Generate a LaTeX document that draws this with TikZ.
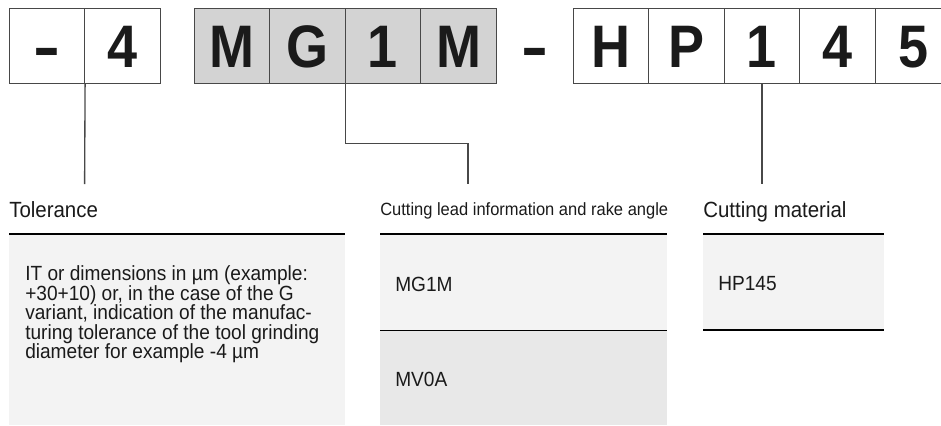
\documentclass[tikz,border=0pt]{standalone}
\usepackage{fontspec}
\usepackage{xcolor}
\usepackage{graphicx}
\usepackage{tikz}
\usetikzlibrary{positioning}
\newfontfamily\keyfont[FakeStretch=0.9]{Liberation Sans}
\newfontfamily\notefont[FakeStretch=0.93]{Liberation Sans}
\definecolor{GCell}{RGB}{211,211,211}
\definecolor{GEdge}{RGB}{72,72,72}
\definecolor{GPanel}{RGB}{243,243,243}
\definecolor{GPanelDark}{RGB}{232,232,232}
\definecolor{GInk}{RGB}{26,26,26}
\newcommand{\keydash}{\scalebox{1.5}[1]{-}}

\tikzset{
  keycell/.style={draw=GEdge, line width=0.75pt, minimum width=56.7pt,
    minimum height=56.25pt, inner sep=0pt, text height=32.25pt, text depth=0pt,
    font=\keyfont\bfseries\fontsize{45}{45}\selectfont, text=GInk},
  keyglyph/.style={keycell, draw=none},
  leader/.style={draw=GEdge, line width=1pt},
  headrule/.style={draw=black, line width=1.9pt},
  heading/.style={inner sep=0pt, text=GInk, font=\notefont\fontsize{16.5}{18}\selectfont},
  notetext/.style={inner sep=0pt, text=GInk, font=\notefont\fontsize{15.4}{14.6}\selectfont}
}

\begin{document}
\begin{tikzpicture}[x=0.75pt, y=-0.75pt]
  \useasboundingbox (0,0) rectangle (941,425);
  \clip (0,0) rectangle (941,425);

  % key boxes
  \foreach \ch [count=\i] in {\keydash,4}
    \node[keycell] (tol\i) at (46.8+75.6*\i-75.6, 45.6) {\ch};
  \foreach \ch [count=\i] in {M,G,1,M}
    \node[keycell, fill=GCell] (lead\i) at (231.8+75.6*\i-75.6, 45.6) {\ch};
  \node[keyglyph] (sep) at (535,45.6) {\keydash};
  \foreach \ch [count=\i] in {H,P,1,4,5}
    \node[keycell] (mat\i) at (610.8+75.6*\i-75.6, 45.6) {\ch};

  % leaders
  \coordinate (tolend) at (84.6,184);
  \coordinate (leadend) at (468,184);
  \coordinate (matend) at (762,184);
  \draw[leader] (tol1.south east) -- (tolend);
  \draw[leader] (lead2.south east) -- ++(0,60) -| (leadend);
  \draw[leader] (mat3.south) -- (matend);

  % panels
  \fill[GPanel] (9,235) rectangle (345,425);
  \fill[GPanel] (380,235) rectangle (667,330);
  \fill[GPanelDark] (380,330) rectangle (667,425);
  \fill[GPanel] (703,235) rectangle (884,330);
  \draw[draw=black, line width=0.75pt] (380,330) -- (667,330);
  \draw[headrule] (9,234) -- (345,234);
  \draw[headrule] (380,234) -- (667,234);
  \draw[headrule] (703,234) -- (884,234);
  \draw[headrule] (703,330) -- (884,330);

  % headings
  \node[heading, anchor=base west] (tolhead) at (9,217) {Tolerance};
  \node[heading, anchor=base west, font=\notefont\fontsize{13.3}{15}\selectfont]
    (leadhead) at (380,215) {Cutting lead information and rake angle};
  \node[heading, anchor=base west] (mathead) at (703,217) {Cutting material};

  % panel texts
  \node[notetext, anchor=north west, align=left] (tolnote) at (25,265.5) {%
    IT or dimensions in µm (example:\\
    +30+10) or, in the case of the G\\
    variant, indication of the manufac-\\
    turing tolerance of the tool grinding\\
    diameter for example -4 µm};
  \node[notetext, anchor=base west] (leadA) at (395,291) {MG1M};
  \node[notetext, anchor=base west] (leadB) at (395,386) {MV0A};
  \node[notetext, anchor=base west] (matA) at (718,290) {HP145};
\end{tikzpicture}
\end{document}
